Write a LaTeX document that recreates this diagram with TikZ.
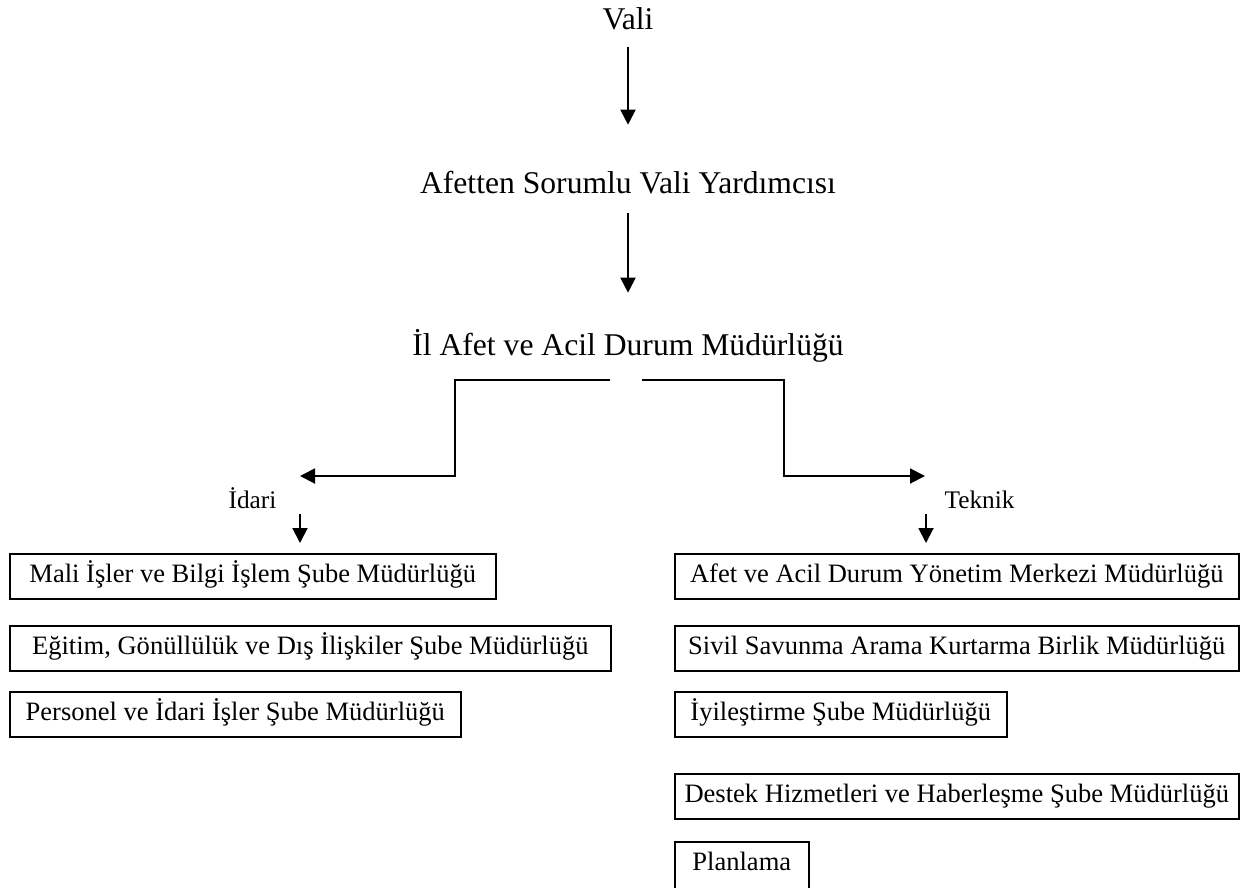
\documentclass[tikz,border=0pt]{standalone}
\usepackage{fontspec}
\setmainfont{Liberation Serif}
\usetikzlibrary{positioning,calc}
\usetikzlibrary{arrows.meta}
\newcommand\headfont{\fontsize{18}{21}\selectfont}
\newcommand\unitfont{\fontsize{15.1}{18}\selectfont}
\newcommand\branchfont{\fontsize{14.4}{17}\selectfont}
\tikzset{
  head/.style={anchor=base,inner sep=0pt,text height=12.5pt,text depth=4pt,font=\headfont},
  branch/.style={anchor=base,inner sep=0pt,font=\branchfont},
  unit/.style={draw=black,line width=0.9pt,anchor=north west,inner xsep=0pt,inner ysep=5.8pt,
    text height=10.5pt,text depth=3.5pt,font=\unitfont},
  link/.style={draw=black,line width=1.1pt,-{Triangle[length=0.3cm,width=0.3cm]}},
}

\begin{document}
\begin{tikzpicture}
\useasboundingbox (0,0) rectangle (25,-17.74);
\clip (0,0) rectangle (25,-17.74);
\node[head] (vali) at (12.56,-0.58) {Vali};
\node[head] (yrd) at (12.56,-3.86) {Afetten Sorumlu Vali Yardımcısı};
\node[head] (ilafad) at (12.56,-7.10) {İl Afet ve Acil Durum Müdürlüğü};
\draw[link,shorten <=0.22cm,shorten >=0.92cm] (vali.south) -- (yrd.north);
\draw[link,shorten <=0.26cm,shorten >=0.80cm] (yrd.south) -- (ilafad.north);
\coordinate (lstart) at (12.2,-7.6);
\coordinate (rstart) at (12.84,-7.6);
\coordinate (idarihead) at (6.0,-9.52);
\coordinate (teknikhead) at (18.5,-9.52);
\draw[link] (lstart) -| (9.1,-9.52) -- (idarihead);
\draw[link] (rstart) -| (15.68,-9.52) -- (teknikhead);
\node[branch] (idari) at (5.05,-10.16) {İdari};
\node[branch] (teknik) at (19.59,-10.16) {Teknik};
\foreach \n/\y/\w/\t in {
  m1/-11.06/9.72/{Mali İşler ve Bilgi İşlem Şube Müdürlüğü},
  m2/-12.50/12.02/{Eğitim, Gönüllülük ve Dış İlişkiler Şube Müdürlüğü},
  m3/-13.82/9.02/{Personel ve İdari İşler Şube Müdürlüğü}}
  \node[unit,minimum width=\w cm] (\n) at (0.18,\y) {\t};
\foreach \n/\y/\w/\t in {
  t1/-11.06/11.28/{Afet ve Acil Durum Yönetim Merkezi Müdürlüğü},
  t2/-12.50/11.28/{Sivil Savunma Arama Kurtarma Birlik Müdürlüğü},
  t3/-13.82/6.64/{İyileştirme Şube Müdürlüğü},
  t4/-15.46/11.28/{Destek Hizmetleri ve Haberleşme Şube Müdürlüğü}}
  \node[unit,minimum width=\w cm] (\n) at (13.48,\y) {\t};
\node[unit,minimum width=2.68cm,text depth=14pt] (t5) at (13.48,-16.82) {Planlama};
\coordinate (idarisub) at (6.0,-10.28);
\coordinate (tekniksub) at (18.52,-10.28);
\draw[link,shorten >=0.2cm] (idarisub) -- (idarisub |- m1.north);
\draw[link,shorten >=0.2cm] (tekniksub) -- (tekniksub |- t1.north);
\end{tikzpicture}
\end{document}
